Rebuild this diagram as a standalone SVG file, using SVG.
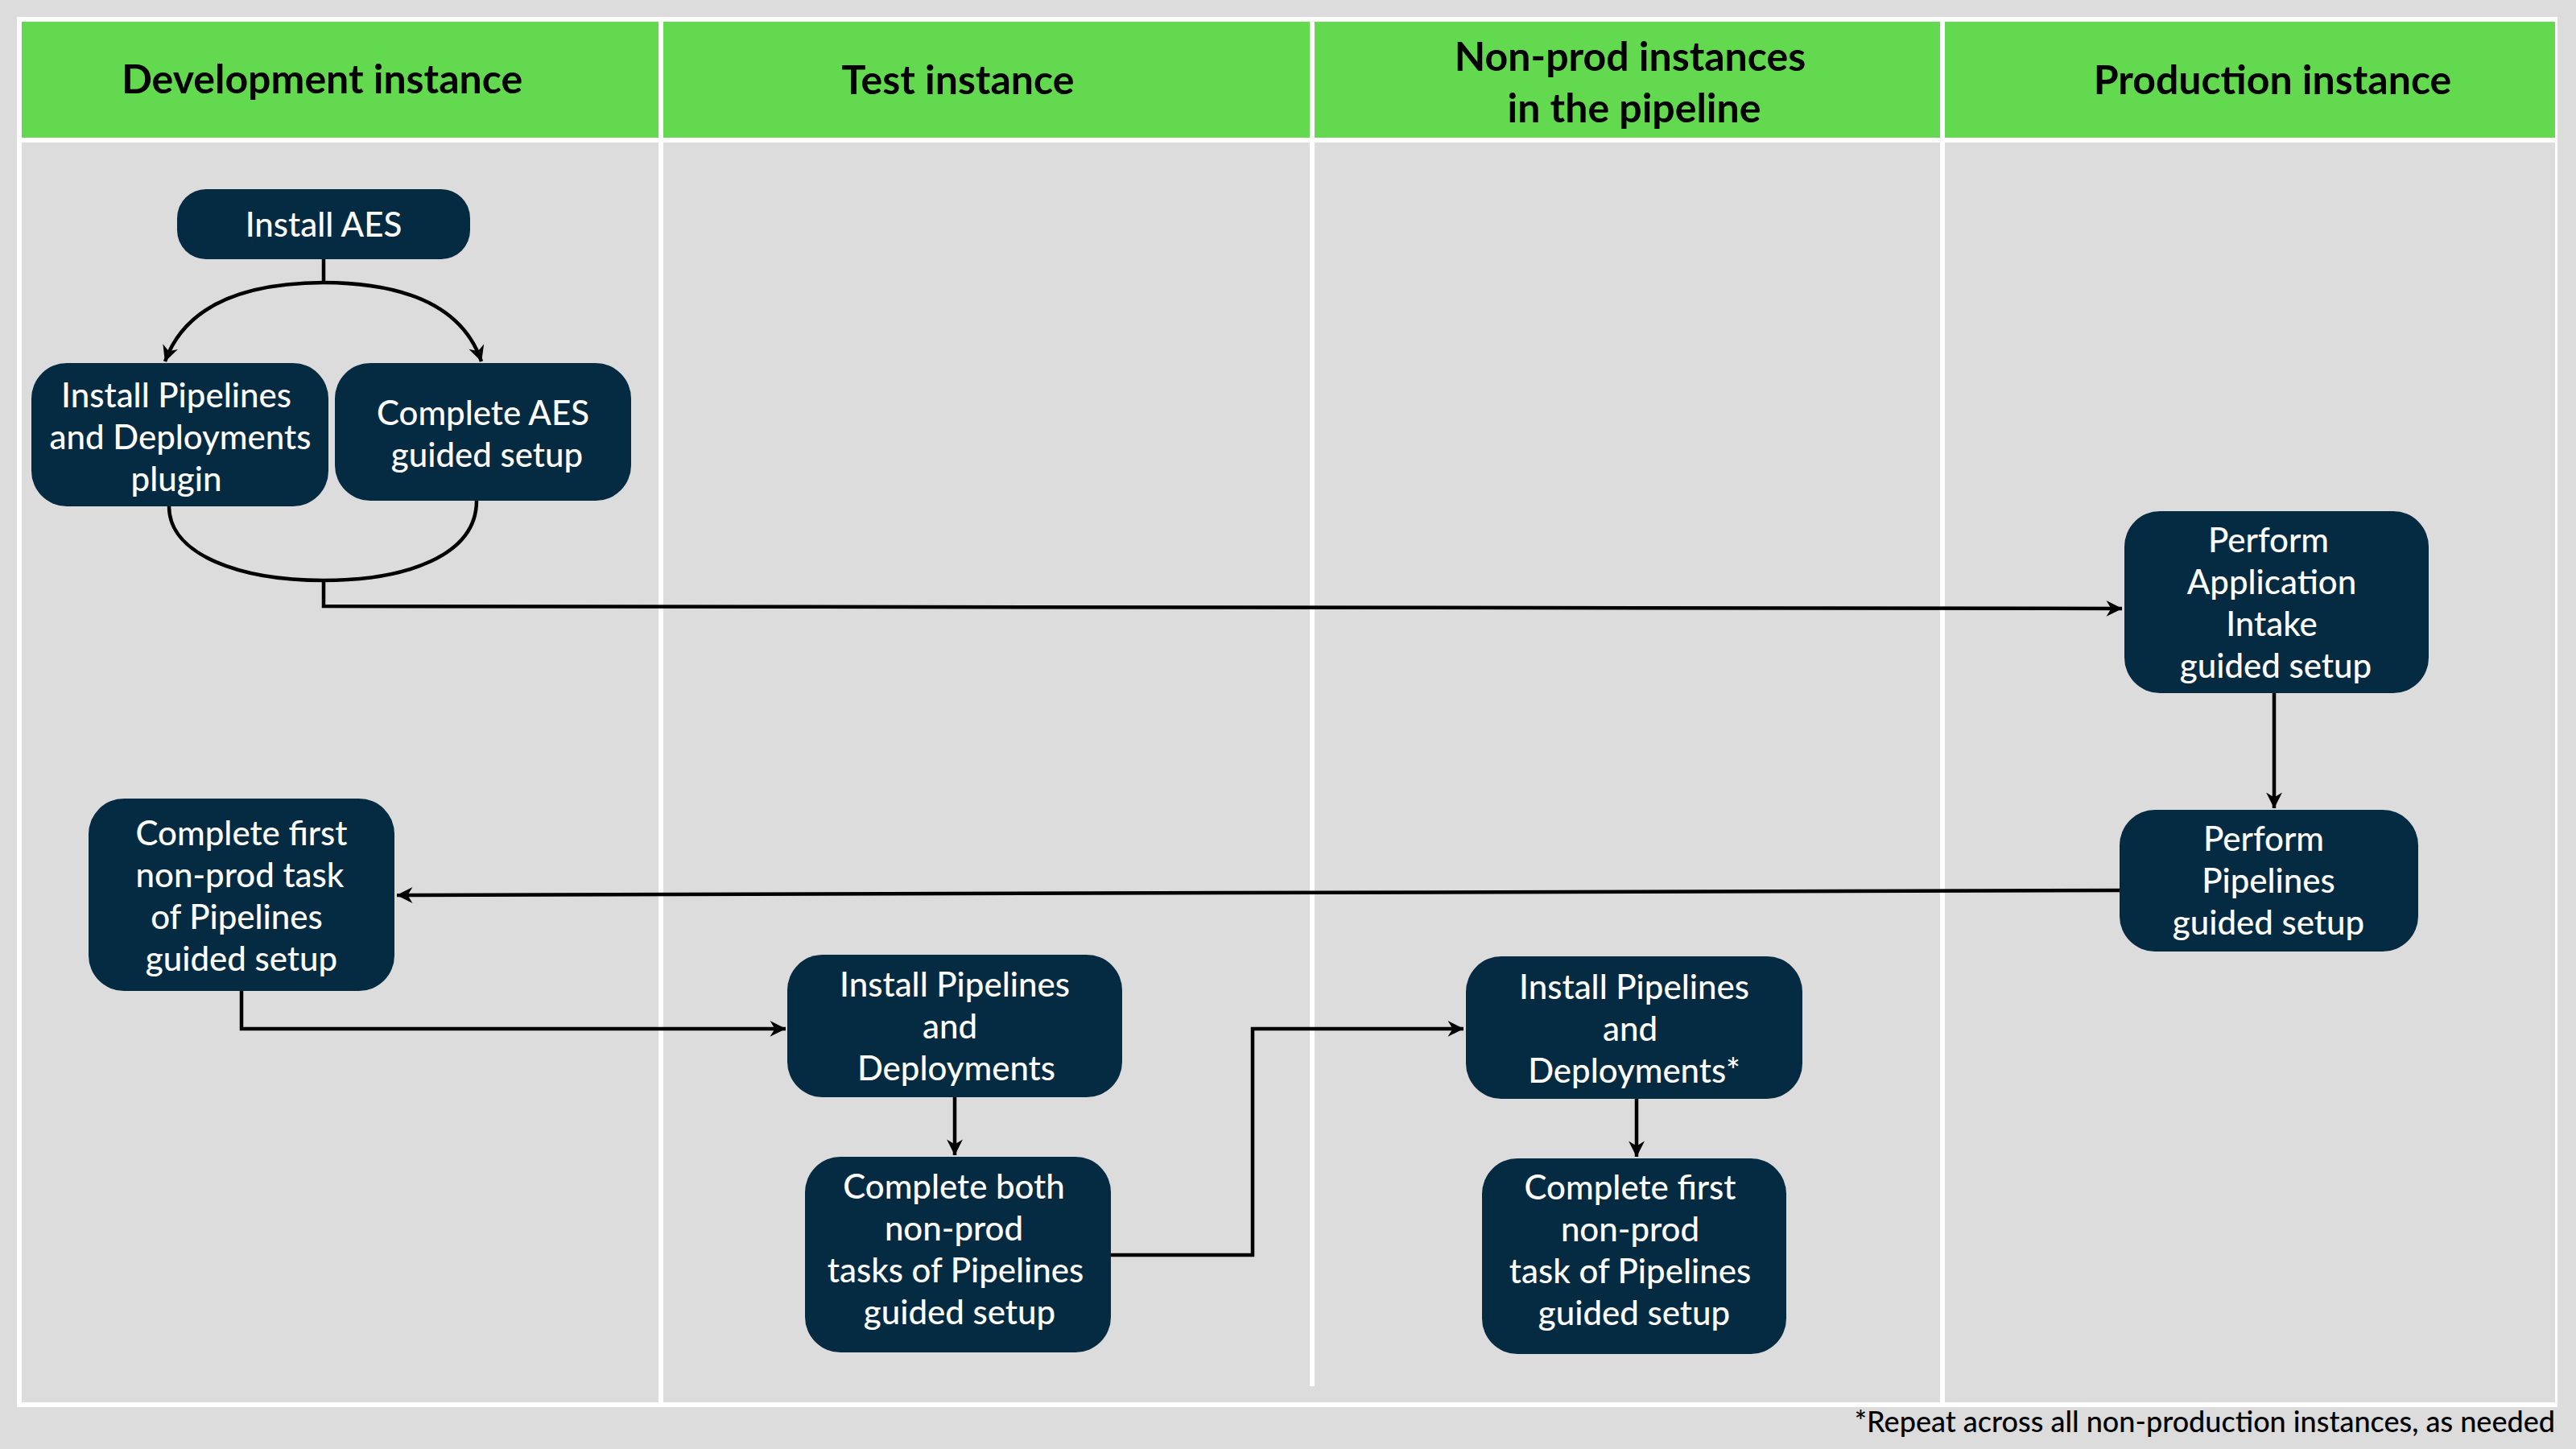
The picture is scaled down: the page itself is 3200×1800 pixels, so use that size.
<svg xmlns="http://www.w3.org/2000/svg" width="3200" height="1800" viewBox="0 0 3200 1800">
<style>
.n{fill:#042b42}
.t{font-family:Lato,"Noto Sans",sans-serif;font-size:42px;font-weight:500;fill:#fff;text-anchor:middle;dominant-baseline:central}
.h{font-family:Lato,"Noto Sans",sans-serif;font-size:50px;font-weight:700;fill:#000;text-anchor:middle;dominant-baseline:central}
.c{fill:none;stroke:#000;stroke-width:4.5}
</style>
<defs>
<marker id="a" viewBox="0 0 20 20" refX="19" refY="10" markerWidth="9" markerHeight="9" markerUnits="userSpaceOnUse" orient="auto" style="overflow:visible">
<path d="M0,0 L20,10 L0,20 L6,10 Z" fill="#000" transform="scale(2.2) translate(-11,-5.5)"/>
</marker>
</defs>
<rect width="3200" height="1800" fill="#dcdcdc"/>
<rect x="21" y="21" width="3156" height="1727" fill="#fff"/>
<g id="lanes">
<rect x="27" y="27" width="791" height="144" fill="#63d950"/>
<rect x="824" y="27" width="803" height="144" fill="#63d950"/>
<rect x="1633" y="27" width="777" height="144" fill="#63d950"/>
<rect x="2416" y="27" width="758" height="144" fill="#63d950"/>
<rect x="27" y="177" width="791" height="1565" fill="#dcdcdc"/>
<rect x="824" y="177" width="803" height="1565" fill="#dcdcdc"/>
<rect x="1633" y="177" width="777" height="1565" fill="#dcdcdc"/>
<rect x="2416" y="177" width="758" height="1565" fill="#dcdcdc"/>
<rect x="1627" y="1722" width="6" height="20" fill="#dcdcdc"/>
<text class="h" x="400" y="97">Development instance</text>
<text class="h" x="1190" y="98">Test instance</text>
<text class="h" x="2025" y="69">Non-prod instances</text>
<text class="h" x="2030" y="133">in the pipeline</text>
<text class="h" x="2823" y="98">Production instance</text>
</g>
<text x="3174" y="1765" font-family="Lato,'Noto Sans',sans-serif" font-size="36" font-weight="500" text-anchor="end" dominant-baseline="central">*Repeat across all non-production instances, as needed</text>
<g id="connectors">
<path class="c" d="M402,322 V351"/>
<path class="c" marker-end="url(#a)" d="M402,351 Q240,352 205,449"/>
<path class="c" marker-end="url(#a)" d="M402,351 Q565,352 598,449"/>
<path class="c" d="M210,629 C210,690 300,721 402,721 C505,721 592,690 592,622"/>
<path class="c" marker-end="url(#a)" d="M402,721 V753 L2636,756"/>
<path class="c" marker-end="url(#a)" d="M2825,861 V1004"/>
<path class="c" marker-end="url(#a)" d="M2633,1106 L493,1112"/>
<path class="c" marker-end="url(#a)" d="M300,1231 V1278 H976"/>
<path class="c" marker-end="url(#a)" d="M1186,1363 V1435"/>
<path class="c" marker-end="url(#a)" d="M1380,1559 H1556 V1278 H1818"/>
<path class="c" marker-end="url(#a)" d="M2033,1365 V1437"/>
</g>
<g id="n1"><rect class="n" x="220" y="235" width="364" height="87" rx="36"/><text class="t" x="402" y="278">Install AES</text></g>
<g id="n2"><rect class="n" x="39" y="451" width="369" height="178" rx="44"/><text class="t" x="219" y="490">Install Pipelines</text><text class="t" x="224" y="542">and Deployments</text><text class="t" x="219" y="594">plugin</text></g>
<g id="n3"><rect class="n" x="416" y="451" width="368" height="171" rx="44"/><text class="t" x="600" y="512">Complete AES</text><text class="t" x="605" y="564">guided setup</text></g>
<g id="n4"><rect class="n" x="2639" y="635" width="378" height="226" rx="44"/><text class="t" x="2818" y="670">Perform</text><text class="t" x="2822" y="722">Application</text><text class="t" x="2822" y="774">Intake</text><text class="t" x="2827" y="826">guided setup</text></g>
<g id="n5"><rect class="n" x="2633" y="1006" width="371" height="176" rx="44"/><text class="t" x="2812" y="1041">Perform</text><text class="t" x="2818" y="1093">Pipelines</text><text class="t" x="2818" y="1145">guided setup</text></g>
<g id="n6"><rect class="n" x="110" y="992" width="380" height="239" rx="44"/><text class="t" x="300" y="1034">Complete first</text><text class="t" x="298" y="1086">non-prod task</text><text class="t" x="294" y="1138">of Pipelines</text><text class="t" x="300" y="1190">guided setup</text></g>
<g id="n7"><rect class="n" x="978" y="1186" width="416" height="177" rx="44"/><text class="t" x="1186" y="1222">Install Pipelines</text><text class="t" x="1180" y="1274">and</text><text class="t" x="1188" y="1326">Deployments</text></g>
<g id="n8"><rect class="n" x="1000" y="1437" width="380" height="243" rx="44"/><text class="t" x="1185" y="1473">Complete both</text><text class="t" x="1185" y="1525">non-prod</text><text class="t" x="1187" y="1577">tasks of Pipelines</text><text class="t" x="1192" y="1629">guided setup</text></g>
<g id="n9"><rect class="n" x="1821" y="1188" width="418" height="177" rx="44"/><text class="t" x="2030" y="1225">Install Pipelines</text><text class="t" x="2025" y="1277">and</text><text class="t" x="2030" y="1329">Deployments*</text></g>
<g id="n10"><rect class="n" x="1841" y="1439" width="378" height="243" rx="44"/><text class="t" x="2025" y="1474">Complete first</text><text class="t" x="2025" y="1526">non-prod</text><text class="t" x="2025" y="1578">task of Pipelines</text><text class="t" x="2030" y="1630">guided setup</text></g>
</svg>
